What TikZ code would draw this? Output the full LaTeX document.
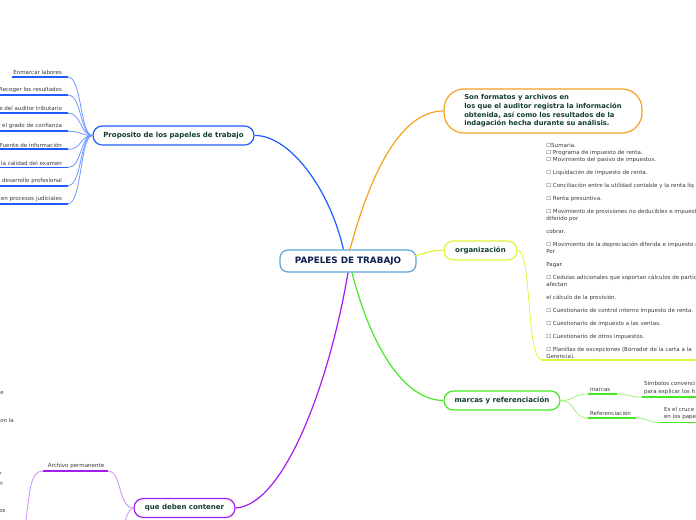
\documentclass[tikz,border=0pt]{standalone}
\usepackage{fontspec}
\setmainfont{DejaVu Sans}
\usetikzlibrary{positioning}
\definecolor{paperNavy}{HTML}{0D1F4F}
\definecolor{paperInk}{HTML}{123D2F}
\definecolor{paperGrey}{HTML}{3A3A3A}
\definecolor{paperSky}{HTML}{5AA6DC}
\definecolor{paperBlue}{HTML}{1F5BFF}
\definecolor{paperBlueLt}{HTML}{6E96FF}
\definecolor{paperOrange}{HTML}{F5A11C}
\definecolor{paperYellow}{HTML}{E2F23A}
\definecolor{paperGreen}{HTML}{46E826}
\definecolor{paperGreenLt}{HTML}{9BF07E}
\definecolor{paperPurple}{HTML}{A31DF0}
\definecolor{paperPurpleLt}{HTML}{CC8BFA}

\begin{document}
\begin{tikzpicture}[x=0.75pt,y=-0.75pt,
  topic/.style={draw,line width=0.9pt,rounded corners=7pt,fill=white,inner sep=0pt,
    minimum height=14.25pt,font=\fontsize{5.25}{6}\selectfont\bfseries,text=paperInk},
  leaf/.style={font=\fontsize{4.15}{4.8}\selectfont,text=paperGrey,inner sep=0.6pt},
  branch/.style={line width=0.9pt},
  twig/.style={line width=0.6pt},
  underline/.style={line width=1.4pt}]
\useasboundingbox (0,0) rectangle (696,520);

% central topic
\node[draw=paperSky,line width=0.9pt,rounded corners=6pt,fill=white,minimum width=102pt,
  minimum height=16.5pt,font=\fontsize{6.6}{7}\selectfont\bfseries,text=paperNavy] (root) at (348,261) {PAPELES DE TRABAJO};

% main topics
\node[topic,draw=paperBlue,minimum width=120.75pt] (prop) at (173.5,135.5) {Proposito de los papeles de trabajo};
\node[topic,draw=paperOrange,rounded corners=15pt,minimum width=148.5pt,minimum height=33pt,align=left,
  font=\fontsize{5.1}{6.5}\selectfont\bfseries] (def) at (543,111)
  {Son formatos y archivos en\\los que el auditor registra la información\\obtenida, así como los resultados de la\\indagación hecha durante su análisis.};
\node[topic,draw=paperYellow,minimum width=54.75pt] (org) at (480.5,250.5) {organización};
\node[topic,draw=paperGreen,minimum width=87pt] (mr) at (502,400.5) {marcas y referenciación};
\node[topic,draw=paperPurple,minimum width=75.75pt] (qdc) at (184.5,508) {que deben contener};

% branches from the centre
\draw[branch,paperBlue] (root.north west)++(64,0) .. controls (330,190) and (290,135) .. (prop.east);
\draw[branch,paperOrange] (root.north)++(2,0) .. controls (370,175) and (400,111) .. (def.west);
\draw[branch,paperYellow] (root.east)++(-2,-5) .. controls (428,252) and (434,250) .. (org.west);
\draw[branch,paperGreen] (root.south)++(4,0) .. controls (372,350) and (405,400) .. (mr.west);
\draw[branch,paperPurple] (root.south)++(0,0) .. controls (330,380) and (285,505) .. (qdc.east);

% leaves of the purpose topic
\foreach \t [count=\i] in {Enmarcar labores,Recoger los resultados,e del auditor tributario,
  r el grado de confianza,Fuente de información,la calidad del examen,
  l desarrollo profesional,en procesos judiciales}{
  \pgfmathsetmacro\y{77+18.1*(\i-1)}
  \node[leaf,anchor=south east] (l\i) at (63,\y-1.2) {\t};
  \coordinate (le\i) at (68,\y);
  \draw[underline,paperBlue] (l\i.south west |- le\i) -- (le\i);
  \draw[twig,paperBlueLt] (le\i) .. controls (82,\y) and (80,135.5) .. (prop.west);
}

% organisation list
\node[leaf,anchor=north west,align=left,font=\fontsize{4.15}{5.25}\selectfont,inner sep=0pt] (list) at (546,143.5)
  {☐Sumaria.\\☐ Programa de impuesto de renta.\\☐ Movimiento del pasivo de impuestos.\\[4.5pt]
   ☐ Liquidación de impuesto de renta.\\[4.5pt]
   ☐ Conciliación entre la utilidad contable y la renta líq\\[4.5pt]
   ☐ Renta presuntiva.\\[4.5pt]
   ☐ Movimiento de provisiones no deducibles e impuest\\diferido por\\[4.5pt]
   cobrar.\\[4.5pt]
   ☐ Movimiento de la depreciación diferida e impuesto d\\Por\\[4.5pt]
   Pagar.\\[4.5pt]
   ☐ Cedulas adicionales que soportan cálculos de partic\\afectan\\[4.5pt]
   el cálculo de la provisión.\\[4.5pt]
   ☐ Cuestionario de control interno impuesto de renta.\\[4.5pt]
   ☐ Cuestionario de impuesto a las ventas.\\[4.5pt]
   ☐ Cuestionario de otros impuestos.\\[4.5pt]
   ☐ Planillas de excepciones (Borrador de la carta a la\\Gerencia).};
\coordinate (listend) at (696,360);
\draw[twig,paperYellow] (org.east) .. controls (532,250) and (526,360) .. (542,360);
\draw[underline,paperYellow] (542,360) -- (listend);

% marks and referencing
\node[leaf,anchor=south west] (marcas) at (589,392.5) {marcas};
\node[leaf,anchor=south west] (ref) at (589,416.5) {Referenciación};
\coordinate (me) at (617,394);
\coordinate (re) at (636,418);
\draw[twig,paperGreenLt] (mr.east) .. controls (576,400.5) and (572,394) .. (588,394);
\draw[twig,paperGreenLt] (mr.east) .. controls (576,400.5) and (572,418) .. (588,418);
\draw[underline,paperGreen] (588,394) -- (me);
\draw[underline,paperGreen] (588,418) -- (re);
\node[leaf,anchor=west,align=left,font=\fontsize{4.15}{5.8}\selectfont] (sim) at (643,388) {Símbolos convenci\\para explicar los h};
\node[leaf,anchor=west,align=left,font=\fontsize{4.15}{5.8}\selectfont] (cru) at (663,413.5) {Es el cruce\\en los pape};
\coordinate (simend) at (696,397);
\coordinate (cruend) at (696,422.5);
\draw[twig,paperGreenLt] (me) .. controls (630,394) and (628,397) .. (642,397);
\draw[twig,paperGreenLt] (re) .. controls (650,418) and (646,422.5) .. (660,422.5);
\draw[underline,paperGreen] (642,397) -- (simend);
\draw[underline,paperGreen] (660,422.5) -- (cruend);

% what they must contain
\node[leaf,anchor=south] (arch) at (76,469.5) {Archivo permanente};
\coordinate (ae) at (108,471);
\coordinate (aw) at (43,471);
\coordinate (down1) at (25,528);
\coordinate (down2) at (124,528);
\draw[underline,paperPurple] (aw) -- (ae);
\draw[twig,paperPurpleLt] (qdc.west) .. controls (118,508) and (122,471) .. (ae);
\draw[twig,paperPurpleLt] (aw) .. controls (30,471) and (30,490) .. (down1);
\draw[twig,paperPurpleLt] (qdc.west) .. controls (128,510) and (126,516) .. (down2);

% fragments at the left edge
\node[leaf,anchor=west,inner sep=0pt] (f1) at (0,393) {e};
\node[leaf,anchor=west,inner sep=0pt] (f2) at (0,420) {on la};
\node[leaf,anchor=west,inner sep=0pt] (f3) at (-1,474) {r};
\node[leaf,anchor=west,inner sep=0pt] (f4) at (-1,484) {n};
\node[leaf,anchor=west,inner sep=0pt] (f5) at (-1,511) {os};
\end{tikzpicture}
\end{document}
